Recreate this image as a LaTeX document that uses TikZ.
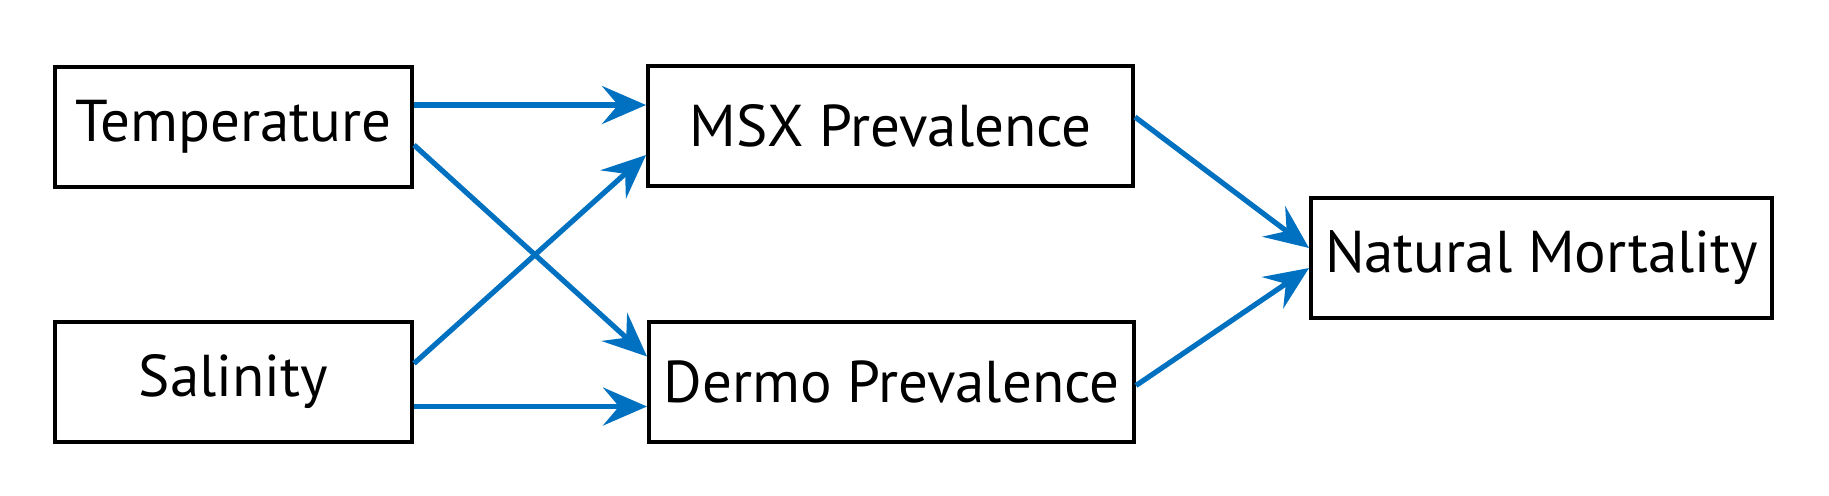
\documentclass[tikz,border=0pt]{standalone}
\usepackage{fontspec}
\setmainfont{PT Sans}
\usetikzlibrary{arrows.meta,calc}
\definecolor{arrblue}{HTML}{0070C0}
\begin{document}
\begin{tikzpicture}[x=0.5pt,y=-0.5pt,
  box/.style={draw=black,line width=2pt,inner sep=0pt,minimum height=60pt,font=\fontsize{29.5}{35}\selectfont},
  conn/.style={draw=arrblue,line width=2.6pt,-{Stealth[length=22pt,width=19pt,inset=8pt]}}]
\useasboundingbox (0,0) rectangle (1829,495);
\node[box,minimum width=178.5pt] (temp) at (233.5,127) {\raisebox{-2pt}{Temperature}};
\node[box,minimum width=178.5pt] (sal) at (233.5,381.5) {\raisebox{-2pt}{Salinity}};
\node[box,minimum width=242.5pt] (msx) at (890.5,126) {\raisebox{-2pt}{MSX Prevalence}};
\node[box,minimum width=242.5pt] (dermo) at (891.5,381.5) {\raisebox{-2pt}{Dermo Prevalence}};
\node[box,minimum width=230.5pt] (nat) at (1541.5,258) {\raisebox{-2pt}{Natural Mortality}};
\draw[conn] ([yshift=11pt]temp.east) -- ([yshift=11pt]temp.east -| msx.west);
\draw[conn] ([yshift=-9pt]temp.east) -- ([yshift=12.5pt]dermo.west);
\draw[conn] ([yshift=9pt]sal.east) -- ([yshift=-14.5pt]msx.west);
\draw[conn] ([yshift=-12.5pt]sal.east) -- ([yshift=-12.5pt]sal.east -| dermo.west);
\draw[conn] ([yshift=4.5pt]msx.east) -- ([yshift=5pt]nat.west);
\draw[conn] ([yshift=-2pt]dermo.east) -- ([yshift=-5pt]nat.west);
\end{tikzpicture}
\end{document}
